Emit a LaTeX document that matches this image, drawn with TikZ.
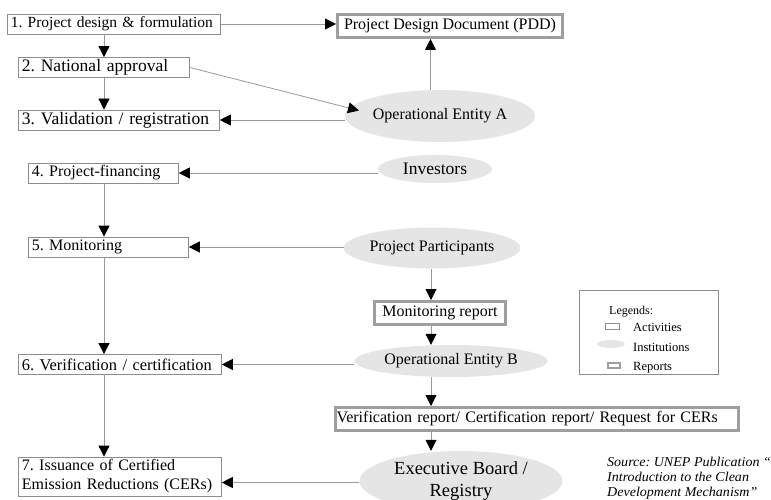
\documentclass[tikz,border=0pt]{standalone}
\usepackage{fontspec}
\setmainfont{Liberation Serif}
\newfontface\srcfont[FakeStretch=1.04,Ligatures=TeX]{Liberation Serif Italic}
\usetikzlibrary{arrows.meta,shapes.geometric}

\definecolor{linegray}{gray}{0.6}
\definecolor{boxgray}{gray}{0.55}
\definecolor{rptgray}{gray}{0.62}
\definecolor{ellgray}{gray}{0.9}

\tikzset{
  activity/.style={draw=boxgray, line width=0.8pt, fill=white, anchor=west, align=left,
    inner xsep=3.5pt, inner ysep=0pt, minimum height=20pt, font=\fontsize{16}{19}\selectfont},
  report/.style={draw=rptgray, line width=3pt, fill=white, inner sep=0pt, minimum height=23pt,
    font=\fontsize{16}{19}\selectfont},
  institution/.style={ellipse, fill=ellgray, inner sep=0pt, font=\fontsize{16}{19}\selectfont},
  legtext/.style={anchor=west, inner sep=0pt, font=\fontsize{12.5}{14}\selectfont},
  conn/.style={draw=linegray, line width=0.8pt, -{Triangle[length=11pt,width=11pt,color=black]}},
}

\begin{document}
\frenchspacing
\begin{tikzpicture}[x=1pt,y=-1pt]
\useasboundingbox (0,0) rectangle (771,500);
\clip (0,0) rectangle (771,500);

% activities (left column)
\node[activity, text width=206pt, font=\fontsize{15.5}{19}\selectfont] (a1) at (7,24) {1. Project design \& formulation};
\node[activity, text width=164pt, font=\fontsize{17.5}{20}\selectfont] (a2) at (18,67.5) {2. National approval};
\node[activity, text width=194pt, font=\fontsize{17.5}{20}\selectfont] (a3) at (18,120) {3. Validation / registration};
\node[activity, text width=143pt] (a4) at (28,173) {4. Project-financing};
\node[activity, text width=153pt] (a5) at (28,247) {5. Monitoring};
\node[activity, text width=196pt, font=\fontsize{16.4}{19}\selectfont] (a6) at (18,364.5) {6. Verification / certification};
\node[activity, text width=196pt, minimum height=39pt] (a7) at (18,476.5) {7. Issuance of Certified\\Emission Reductions (CERs)};

% reports
\node[report, minimum width=225pt] (pdd) at (450,26) {Project Design Document (PDD)};
\node[report, minimum width=131pt] (mrep) at (440,313) {Monitoring report};
\node[report, anchor=west, text width=400pt, align=left, inner xsep=1.5pt] (vrep) at (333.5,419) {Verification report/ Certification report/ Request for CERs};

% institutions
\node[institution, minimum width=190pt, minimum height=52pt] (oeA) at (440,116) {Operational Entity A};
\node[institution, minimum width=114pt, minimum height=28pt, font=\fontsize{17.5}{20}\selectfont] (inv) at (435,169) {Investors};
\node[institution, minimum width=173pt, minimum height=41pt] (pp) at (432,248) {Project Participants};
\node[institution, minimum width=193pt, minimum height=32pt] (oeB) at (451,361) {Operational Entity B};
\node[institution, minimum width=203pt, minimum height=60pt, align=center, font=\fontsize{18.5}{22}\selectfont] (eb) at (461,481) {Executive Board /\\Registry};

% legend
\node[draw=boxgray, line width=0.8pt, minimum width=139pt, minimum height=84pt, inner sep=0pt] (legend) at (648.5,332) {};
\node[legtext, font=\fontsize{12}{14}\selectfont] (lgtitle) at (609,312) {Legends:};
\node[draw=boxgray, line width=0.6pt, minimum width=14pt, minimum height=6pt, inner sep=0pt] (lgact) at (612,326.5) {};
\node[ellipse, fill=ellgray, minimum width=28pt, minimum height=8pt, inner sep=0pt] (lgins) at (611,344) {};
\node[draw=rptgray, line width=1.5pt, minimum width=12pt, minimum height=5pt, inner sep=0pt] (lgrep) at (614,365.5) {};
\node[legtext] (lgacttxt) at (633,327) {Activities};
\node[legtext] (lginstxt) at (633,347) {Institutions};
\node[legtext] (lgreptxt) at (633,368) {Reports};

% source
\node[font=\srcfont\fontsize{13.5}{15}\selectfont, align=left, anchor=north west, inner sep=0pt] (src) at (607,457)
  {Source: UNEP Publication “\\Introduction to the Clean\\Development Mechanism”};

\coordinate (spine) at (104,0); % left arrows
\coordinate (rspine) at (431,0); % right arrows
\coordinate (a7in) at ([yshift=-6pt]a7.east);

\draw [conn] (a1.east) -- (a1.east -| pdd.west);
\draw [conn] (spine |- a1.south) -- (spine |- a2.north);
\draw [conn] (spine |- a2.south) -- (spine |- a3.north);
\draw [conn, shorten >=-10pt] (a2.east) -- (oeA.175);
\draw [conn] (a3.east -| oeA.west) -- (a3.east);
\draw [conn] (oeA.110) -- (oeA.110 |- pdd.south);
\draw [conn] (a4.east -| inv.west) -- (a4.east);
\draw [conn] (spine |- a4.south) -- (spine |- a5.north);
\draw [conn] (a5.east -| pp.west) -- (a5.east);
\draw [conn] (spine |- a5.south) -- (spine |- a6.north);
\draw [conn] (rspine |- pp.south) -- (rspine |- mrep.north);
\draw [conn] (rspine |- mrep.south) -- (rspine |- oeB.north);
\draw [conn] (a6.east -| oeB.west) -- (a6.east);
\draw [conn] (rspine |- oeB.south) -- (rspine |- vrep.north);
\draw [conn] (spine |- a6.south) -- (spine |- a7.north);
\draw [conn] (rspine |- vrep.south) -- (rspine |- eb.north);
\draw [conn] (a7in -| eb.west) -- (a7in);

\end{tikzpicture}
\end{document}
